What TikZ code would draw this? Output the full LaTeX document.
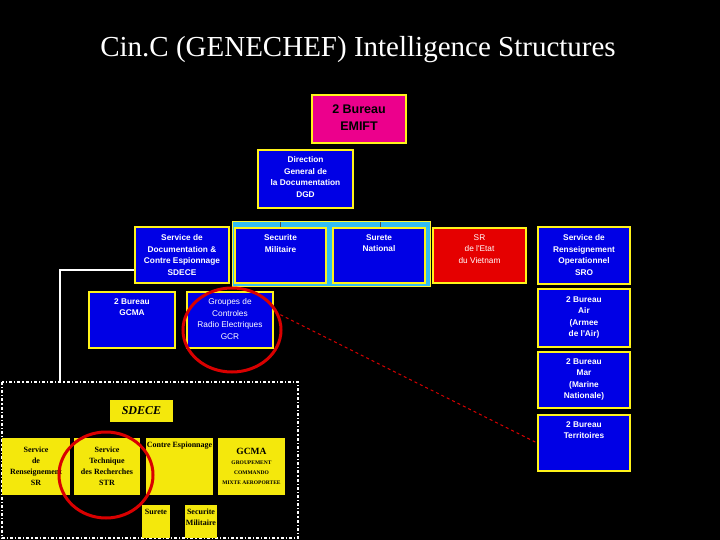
\documentclass[tikz,border=0pt]{standalone}
\usepackage{fontspec}
\setmainfont{Liberation Serif}
\newfontfamily\arialf{Liberation Sans}
\begin{document}
\begin{tikzpicture}[x=1pt,y=-1pt,
 bx/.style={draw=yellow!90!white,line width=1.6pt,fill=blue!90!black},
 bt/.style={text=white,font=\arialf\bfseries\fontsize{8.3}{11.5}\selectfont,align=center,anchor=north},
 yb/.style={fill=yellow!95!black,text=black,font=\bfseries\fontsize{8}{11}\selectfont,align=center,inner sep=1pt},
 ring/.style={draw=red!85!black,line width=3pt}]
\fill[black] (0,0) rectangle (720,540);
\useasboundingbox (0,0) rectangle (720,540);
\node[text=white,font=\fontsize{29}{32}\selectfont] (title) at (358,50) {Cin.C (GENECHEF) Intelligence Structures};
\draw[draw=yellow!80!white,line width=1pt,fill=cyan!80!white] (232,222) rectangle (430,286);
\node[bx,fill=magenta,minimum width=94pt,minimum height=48pt] (emift) at (359,119) {};
\node[bt,text=black,font=\arialf\bfseries\fontsize{12.5}{17}\selectfont] (emiftt) at (359,101) {2 Bureau\\EMIFT};
\node[bx,minimum width=95pt,minimum height=58pt] (dgd) at (305.5,179) {};
\node[bt] (dgdt) at (305.5,153) {Direction\\General de\\la Documentation\\DGD};
\node[bx,minimum width=94pt,minimum height=56pt] (sdece) at (182,255) {};
\node[bt] (sdecet) at (182,231) {Service de\\Documentation \&\\Contre Espionnage\\SDECE};
\node[bx,minimum width=91pt,minimum height=55pt] (secm) at (280.5,255.5) {};
\node[bt] (secmt) at (280.5,231) {Securite\\Militaire};
\node[bx,minimum width=92pt,minimum height=55pt] (sur) at (379,255.5) {};
\node[bt] (surt) at (379,231) {Surete\\National};
\node[bx,fill=red!90!black,minimum width=93pt,minimum height=55pt] (srv) at (479.5,255.5) {};
\node[bt,font=\arialf\fontsize{8.3}{11.5}\selectfont] (srvt) at (479.5,231) {SR\\de l'Etat\\du Vietnam};
\node[bx,minimum width=92pt,minimum height=57pt] (sro) at (584,255.5) {};
\node[bt] (srot) at (584,231) {Service de\\Renseignement\\Operationnel\\SRO};
\node[bx,minimum width=92pt,minimum height=58pt] (air) at (584,318) {};
\node[bt] (airt) at (584,293) {2 Bureau\\Air\\(Armee\\de l'Air)};
\node[bx,minimum width=92pt,minimum height=56pt] (mar) at (584,380) {};
\node[bt] (mart) at (584,355) {2 Bureau\\Mar\\(Marine\\Nationale)};
\node[bx,minimum width=92pt,minimum height=56pt] (ter) at (584,443) {};
\node[bt] (tert) at (584,418) {2 Bureau\\Territoires};
\node[bx,minimum width=86pt,minimum height=56pt] (gcma) at (132,320) {};
\node[bt] (gcmat) at (132,295) {2 Bureau\\GCMA};
\node[bx,minimum width=86pt,minimum height=56pt] (gcr) at (230,320) {};
\node[bt,font=\arialf\fontsize{8.3}{11.5}\selectfont] (gcrt) at (230,295) {Groupes de\\Controles\\Radio Electriques\\GCR};
\coordinate (t1) at (280,222); \coordinate (t2) at (380,222);
\draw[black!70,line width=1pt] (t1) -- ++(0,5) (t2) -- ++(0,5);
\coordinate (w1) at (60,270); \coordinate (w2) at (60,382);
\draw[white,line width=1.2pt] (sdece.west |- w1) -- (w1) -- (w2);
\draw[white,line width=1.2pt,dash dot] (2,382) rectangle (298,538);
\node[yb,font=\bfseries\itshape\fontsize{12}{13}\selectfont,minimum width=63pt,minimum height=22pt] (sd) at (141.5,411) {SDECE};
\node[yb,minimum width=68pt,minimum height=57pt] (sr) at (36,466.5) {Service\\de\\Renseignement\\SR};
\node[yb,minimum width=66pt,minimum height=57pt] (str) at (107,466.5) {Service\\Technique\\des Recherches\\STR};
\node[yb,minimum width=67pt,minimum height=57pt] (ce) at (179.5,466.5) {};
\node[yb,fill=none,anchor=north] (cet) at (179.5,441) {Contre Espionnage};
\node[yb,minimum width=67pt,minimum height=57pt] (gc2) at (251.5,466.5) {\fontsize{9.5}{10}\selectfont GCMA\\[-1pt]\fontsize{5.5}{6}\selectfont GROUPEMENT\\[-1pt]\fontsize{5.5}{6}\selectfont COMMANDO\\[-1pt]\fontsize{5.5}{6}\selectfont MIXTE AEROPORTEE};
\node[yb,minimum width=28pt,minimum height=33pt] (su) at (156,521.5) {};
\node[yb,fill=none,anchor=north] (sut) at (156,508) {Surete};
\node[yb,minimum width=32pt,minimum height=33pt] (sm) at (201,521.5) {};
\node[yb,fill=none,anchor=north] (smt) at (201,508) {Securite\\Militaire};
\draw[ring] (232,330) ellipse (49 and 42);
\draw[ring] (106,475) ellipse (47 and 43);
\coordinate (r1) at (275,312);
\draw[red!85!black,dashed,line width=1pt] (r1) -- (ter.west);
\end{tikzpicture}
\end{document}
